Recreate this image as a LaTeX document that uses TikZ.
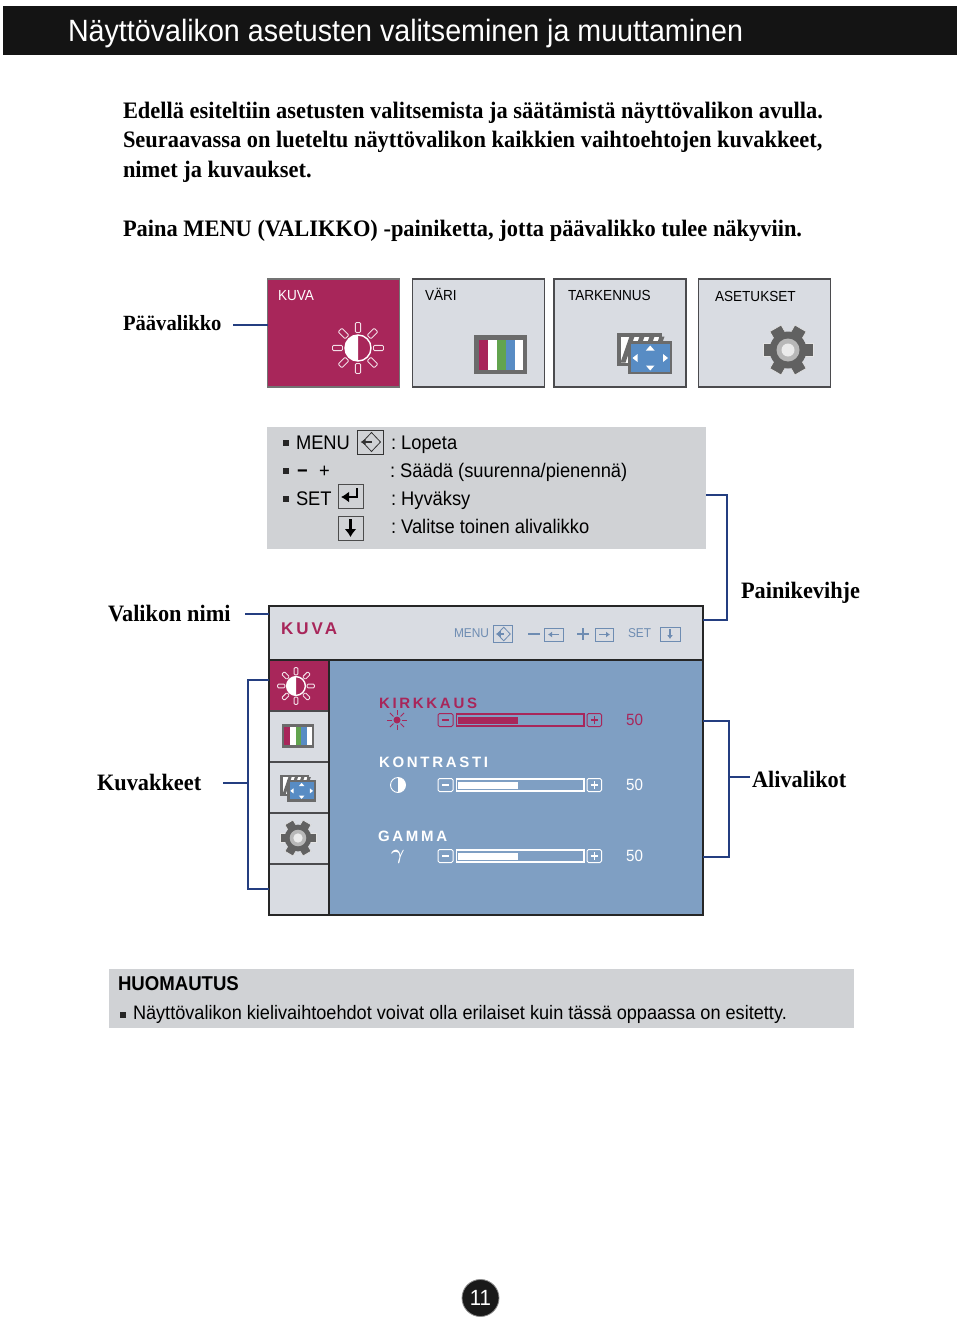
\documentclass[tikz,border=0pt]{standalone}
\usepackage{fontspec}
\setmainfont[FakeStretch=.95]{Liberation Serif}
\setsansfont[FakeStretch=.93]{Liberation Sans}
\newfontfamily\spacedfont[LetterSpace=18]{Liberation Sans}
\usetikzlibrary{arrows.meta, positioning, calc}
\definecolor{crimson}{RGB}{168, 38, 90}
\definecolor{tabgray}{RGB}{217, 220, 226}
\definecolor{legendgray}{RGB}{208, 210, 213}
\definecolor{panelblue}{RGB}{127, 159, 195}
\definecolor{linkblue}{RGB}{36, 62, 128}
\definecolor{framegray}{RGB}{75, 75, 78}
\definecolor{iconblue}{RGB}{88, 140, 196}
\definecolor{icongreen}{RGB}{98, 164, 78}
\definecolor{hintblue}{RGB}{110, 140, 178}
\tikzset{
	x=1pt, y=-1pt,
	base/.style={inner sep=0pt, outer sep=0pt, anchor=base west},
	headtext/.style={base, text=white, font=\sffamily\fontsize{30.8}{31}\selectfont},
	bodytext/.style={base, align=left, font=\bfseries\fontsize{23.6}{29.5}\selectfont},
	sidetext/.style={base, font=\bfseries\fontsize{23.5}{24}\selectfont},
	tabtext/.style={base, font=\sffamily\fontsize{14.6}{14.6}\selectfont},
	legendtext/.style={base, font=\sffamily\fontsize{19.7}{20}\selectfont},
	itemtext/.style={base, font=\spacedfont\bfseries\fontsize{15}{15}\selectfont},
	valuetext/.style={anchor=center, inner sep=0pt, font=\sffamily\fontsize{16.3}{17}\selectfont},
	tabbox/.style={rectangle, draw=framegray, fill=tabgray, line width=1.2pt, minimum width=132pt, minimum height=108pt, inner sep=0pt, outer sep=0pt},
	sidecell/.style={rectangle, draw=framegray, fill=tabgray, line width=1.2pt, minimum width=60pt, minimum height=51pt, inner sep=0pt, outer sep=0pt, anchor=north west},
	keybox/.style={draw=black!70, line width=.7pt},
	bulletbox/.style={rectangle, fill=black!85, minimum size=6pt, inner sep=0pt, outer sep=0pt},
	link/.style={draw=linkblue, line width=2.4pt},
	pics/sunicon/.style={code={
		\foreach \a in {0,45,...,315}
			\draw[rotate=\a, draw=white!85!crimson, line width=.9pt, rounded corners=1pt] (15.5,-2.6) rectangle (25.5,2.6);
		\draw[white, line width=1.4pt, fill=crimson] (0,0) circle (13);
		\fill[white] (0,-13) arc[start angle=-90, end angle=-270, radius=13] -- cycle;
	}},
	pics/colouricon/.style={code={
		\fill[black!58] (-26.5,-19.5) rectangle (26.5,19.5);
		\fill[white] (-22,-15) rectangle (22,15);
		\fill[crimson] (-22,-15) rectangle (-13,15);
		\fill[icongreen] (-4,-15) rectangle (5,15);
		\fill[iconblue] (5,-15) rectangle (14,15);
	}},
	pics/focusicon/.style={code={
		\fill[black!58] (-27.5,-20.5) rectangle (17.5,12.5);
		\fill[white] (-24,-17) rectangle (14,9);
		\foreach \s in {-24,-14,...,6}
			\fill[black!58] (\s,9) -- (\s+5,9) -- (\s+14,-17) -- (\s+9,-17) -- cycle;
		\fill[iconblue, draw=black!58, line width=2.5pt] (-15,-11) rectangle (26.5,19.5);
		\fill[white] (5.7,-8) -- (10,-3) -- (1.4,-3) -- cycle;
		\fill[white] (5.7,17) -- (10,12) -- (1.4,12) -- cycle;
		\fill[white] (-12,4.5) -- (-7,.5) -- (-7,8.5) -- cycle;
		\fill[white] (23.5,4.5) -- (18.5,.5) -- (18.5,8.5) -- cycle;
	}},
	pics/gearicon/.style={code={
		\foreach \a in {30,90,...,330}
			\fill[rotate=\a, black!62, draw=white!90!black, line width=.6pt] (-6.5,-25) rectangle (6.5,-12);
		\fill[black!62] (0,0) circle (18.5);
		\fill[black!28] (0,0) circle (11.5);
		\fill[white!92!black] (0,0) circle (6.5);
	}},
	pics/menukey/.style={code={
		\draw[#1, line width=.8pt] (-13,-12) rectangle (13,12);
		\draw[#1, line width=.8pt] (1,-9.5) -- (10,0) -- (1,9.5) -- (-8,0) -- cycle;
		\draw[#1, line width=1.6pt, -{Latex[length=5pt,width=7pt]}] (1,0) -- (-10,0);
	}},
	pics/sliderbar/.style={code={
		\draw[#1, line width=1pt, rounded corners=1.5pt] (438,-6.5) rectangle (453,6.5);
		\draw[#1, line width=1.2pt] (442,0) -- (449,0);
		\draw[#1, line width=1.2pt] (456.5,-6) rectangle (584,6);
		\fill[#1] (458,-3.5) rectangle (517.5,3.5);
		\draw[#1, line width=1pt, rounded corners=1.5pt] (587,-6.5) rectangle (601.5,6.5);
		\draw[#1, line width=1.2pt] (590.5,0) -- (598,0) (594.2,-4) -- (594.2,4);
	}},
}
\begin{document}
\frenchspacing
\begin{tikzpicture}
	\useasboundingbox (0,0) rectangle (960,1322);
	\fill[white] (0,0) rectangle (960,1322);
	% title band
	\node[rectangle, fill=black!92, minimum width=954pt, minimum height=49pt, inner sep=0pt, outer sep=0pt, anchor=north west] (band) at (3,6) {};
	\node[headtext] (headline) at (68,42) {Näyttövalikon asetusten valitseminen ja muuttaminen};
	\node[bodytext] (intro) at (123,177) {Edellä esiteltiin asetusten valitsemista ja säätämistä näyttövalikon avulla.\\Seuraavassa on lueteltu näyttövalikon kaikkien vaihtoehtojen kuvakkeet,\\nimet ja kuvaukset.};
	\node[bodytext] (pressmenu) at (123,236) {Paina MENU (VALIKKO) -painiketta, jotta päävalikko tulee näkyviin.};
	% main menu tabs
	\node[sidetext, font=\bfseries\fontsize{21.7}{24}\selectfont] (mainlabel) at (123,330) {Päävalikko};
	\node[tabbox, fill=crimson, draw=black!55, line width=1.8pt] (tabkuva) at (333.5,333) {};
	\node[tabbox, right=13pt of tabkuva] (tabvari) {};
	\node[tabbox, right=9.5pt of tabvari] (tabfocus) {};
	\node[tabbox, right=12.5pt of tabfocus] (tabsetup) {};
	\node[tabtext, text=white] (kuvaname) at (278,300) {KUVA};
	\node[tabtext] (variname) at (425,300) {VÄRI};
	\node[tabtext] (focusname) at (568,300) {TARKENNUS};
	\node[tabtext] (setupname) at (715,301) {ASETUKSET};
	\pic at (358,348) {sunicon};
	\pic at (500.5,354.5) {colouricon};
	\pic at (644.5,353.5) {focusicon};
	\pic at (788,350) {gearicon};
	\coordinate (maintap) at (233,325);
	\draw[link] (maintap) -- (maintap -| tabkuva.west);
	% key legend
	\node[rectangle, fill=legendgray, minimum width=439pt, minimum height=122pt, inner sep=0pt, outer sep=0pt, anchor=north west] (legend) at (267,427) {};
	\node[bulletbox] (bulleta) at (286,443) {};
	\node[bulletbox] (bulletb) at (286,471) {};
	\node[bulletbox] (bulletc) at (286,499) {};
	\node[legendtext] (menukey) at (296,449) {MENU};
	\node[legendtext, font=\sffamily\bfseries\fontsize{19.7}{20}\selectfont] (minuskey) at (297,477) {−};
	\node[legendtext] (pluskey) at (319,477) {+};
	\node[legendtext] (setkey) at (296,505) {SET};
	\node[legendtext] (quit) at (391,449) {: Lopeta};
	\node[legendtext] (adjust) at (390,477) {: Säädä (suurenna/pienennä)};
	\node[legendtext] (accept) at (391,505) {: Hyväksy};
	\node[legendtext] (other) at (391,533) {: Valitse toinen alivalikko};
	\pic at (370.5,442) {menukey={black!80}};
	\draw[keybox] (338,484) rectangle (363,508);
	\draw[line width=2.8pt, -{Latex[length=8pt,width=11pt]}] (357,488) -- (357,497) -- (341,497);
	\draw[keybox] (338,516) rectangle (363,540);
	\draw[line width=3pt, -{Latex[length=8pt,width=12pt]}] (350.5,519) -- (350.5,537);
	% on-screen menu
	\node[rectangle, fill=tabgray, minimum width=434pt, minimum height=54pt, inner sep=0pt, outer sep=0pt, anchor=north west] (titlebar) at (269,606) {};
	\node[rectangle, fill=panelblue, minimum width=374pt, minimum height=255pt, inner sep=0pt, outer sep=0pt, anchor=north west] (panel) at (329,660) {};
	\node[sidecell, fill=crimson, draw=crimson] (sidekuva) at (269,660) {};
	\node[sidecell, below=0pt of sidekuva, anchor=north] (sidevari) {};
	\node[sidecell, below=0pt of sidevari, anchor=north] (sidefocus) {};
	\node[sidecell, below=0pt of sidefocus, anchor=north] (sidesetup) {};
	\node[sidecell, below=0pt of sidesetup, anchor=north] (sideempty) {};
	\draw[black!85, line width=2.2pt] (titlebar.north west) rectangle (panel.south east);
	\draw[black!85, line width=1.2pt] (titlebar.south west) -- (titlebar.south east);
	\draw[black!85, line width=1.2pt] (panel.north west) -- (panel.south west);
	\pic[scale=.72] at (296,686) {sunicon};
	\pic[scale=.62] at (298,736) {colouricon};
	\pic[scale=.64] at (298,788) {focusicon};
	\pic[scale=.72] at (298,838) {gearicon};
	% title bar keys
	\node[base, text=crimson, font=\spacedfont\bfseries\fontsize{17}{17}\selectfont] (barname) at (281,634) {KUVA};
	\node[base, text=hintblue, font=\sffamily\fontsize{12.8}{12.8}\selectfont] (barmenu) at (454,637) {MENU};
	\pic[scale=.72] at (503,634) {menukey={hintblue}};
	\draw[hintblue, line width=2.4pt] (528,634) -- (540,634);
	\draw[hintblue, line width=.9pt] (544,628) rectangle (563,641);
	\draw[hintblue, line width=1.4pt, -{Latex[length=4pt,width=6pt]}] (559,634.5) -- (548,634.5);
	\draw[hintblue, line width=2.4pt] (577,634) -- (589,634) (583,628) -- (583,640);
	\draw[hintblue, line width=.9pt] (595,628) rectangle (613,641);
	\draw[hintblue, line width=1.4pt, -{Latex[length=4pt,width=6pt]}] (599,634.5) -- (610,634.5);
	\node[base, text=hintblue, font=\sffamily\fontsize{12.8}{12.8}\selectfont] (barset) at (628,637) {SET};
	\draw[hintblue, line width=.9pt] (660,627) rectangle (680,641);
	\draw[hintblue, line width=1.4pt, -{Latex[length=4pt,width=6pt]}] (670,629) -- (670,639);
	% sub menu rows
	\node[itemtext, text=crimson] (kirkkaus) at (379,708) {KIRKKAUS};
	\fill[crimson] (397,720) circle (3.5);
	\foreach \a in {0,45,...,315}
		\draw[crimson, line width=1pt, rotate around={\a:(397,720)}] (402,720) -- (407,720);
	\pic at (0,720) {sliderbar={crimson}};
	\node[valuetext, text=crimson] (kirkkausvalue) at (634.5,720) {50};
	\node[itemtext, text=white] (kontrasti) at (379,767) {KONTRASTI};
	\draw[white, line width=.9pt] (398,785) circle (7.5);
	\fill[white] (398,792.5) arc[start angle=90, end angle=-90, radius=7.5] -- cycle;
	\pic at (0,785) {sliderbar={white}};
	\node[valuetext, text=white] (kontrastivalue) at (634.5,785) {50};
	\node[itemtext, text=white] (gamma) at (378,841) {GAMMA};
	\node[anchor=center, inner sep=0pt, text=white, font=\boldmath\fontsize{20}{20}\selectfont] (gammasign) at (398,857) {$\gamma$};
	\pic at (0,856) {sliderbar={white}};
	\node[valuetext, text=white] (gammavalue) at (634.5,856) {50};
	% callouts
	\node[sidetext] (barlabel) at (108,621) {Valikon nimi};
	\coordinate (bartap) at (245,614);
	\draw[link] (bartap) -- (bartap -| titlebar.west);
	\node[sidetext] (keylabel) at (741,598) {Painikevihje};
	\coordinate (legendtap) at (legend.east |- 0,495);
	\coordinate (hinttap) at (titlebar.east |- 0,620);
	\draw[link] (legendtap) -- ++(21,0) |- (hinttap);
	\node[sidetext] (iconlabel) at (97,790) {Kuvakkeet};
	\coordinate (icontap) at (223,783);
	\coordinate (icontop) at (269,680);
	\coordinate (iconend) at (269,889);
	\draw[link] (icontop) -- ++(-21,0) |- (iconend);
	\draw[link] (icontap) -- (icontap -| 248,0);
	\node[sidetext] (itemlabel) at (752,787) {Alivalikot};
	\coordinate (itemtop) at (703,721);
	\coordinate (itemend) at (703,857);
	\draw[link] (itemtop) -- ++(26,0) |- (itemend);
	\coordinate (itemtap) at (750,777);
	\draw[link] (itemtap) -- (itemtap -| 729,0);
	% note
	\node[rectangle, fill=legendgray, minimum width=745pt, minimum height=59pt, inner sep=0pt, outer sep=0pt, anchor=north west] (notebox) at (109,969) {};
	\node[base, font=\sffamily\bfseries\fontsize{20}{20}\selectfont] (notehead) at (118,990) {HUOMAUTUS};
	\node[bulletbox] (notebullet) at (123,1014.5) {};
	\node[base, font=\sffamily\fontsize{19.5}{19.5}\selectfont] (notetext) at (133,1019) {Näyttövalikon kielivaihtoehdot voivat olla erilaiset kuin tässä oppaassa on esitetty.};
	% page number
	\node[circle, fill=black!90, draw=black!45, line width=.8pt, minimum size=37pt, inner sep=0pt, text=white, font=\sffamily\fontsize{22}{22}\selectfont] (pagenumber) at (480.5,1298) {11};
\end{tikzpicture}
\end{document}
